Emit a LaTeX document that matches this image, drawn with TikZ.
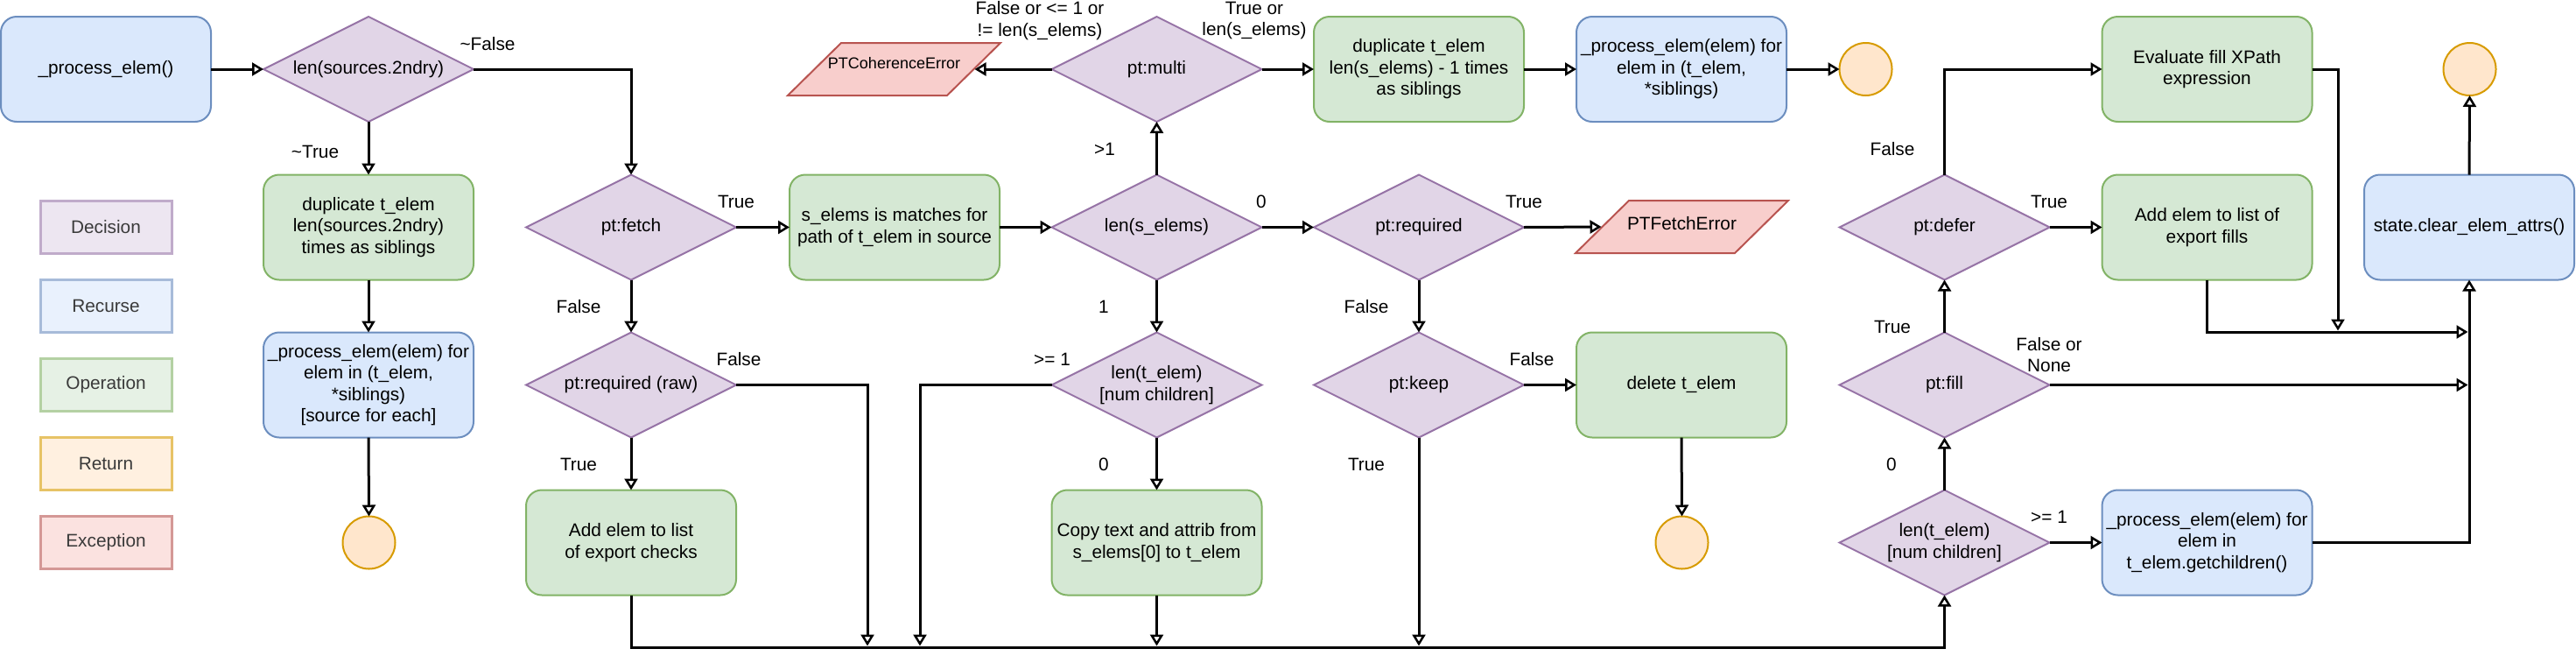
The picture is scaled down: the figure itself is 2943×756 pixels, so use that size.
\documentclass[tikz,border=0pt]{standalone}
\usepackage{fontspec}
\setmainfont{Liberation Sans}
\usetikzlibrary{shapes.geometric, arrows.meta}
\definecolor{decF}{HTML}{E1D5E7}\definecolor{decS}{HTML}{9673A6}
\definecolor{recF}{HTML}{DAE8FC}\definecolor{recS}{HTML}{6C8EBF}
\definecolor{opF}{HTML}{D5E8D4}\definecolor{opS}{HTML}{82B366}
\definecolor{retF}{HTML}{FFE6CC}\definecolor{retS}{HTML}{D79B00}
\definecolor{excF}{HTML}{F8CECC}\definecolor{excS}{HTML}{B85450}
\definecolor{lgDecF}{HTML}{EDE6F1}\definecolor{lgDecS}{HTML}{C0ABCA}
\definecolor{lgRecF}{HTML}{E9F1FD}\definecolor{lgRecS}{HTML}{A7BBD9}
\definecolor{lgOpF}{HTML}{E6F1E5}\definecolor{lgOpS}{HTML}{B4D1A3}
\definecolor{lgRetF}{HTML}{FFF0E0}\definecolor{lgRetS}{HTML}{E7C366}
\definecolor{lgExcF}{HTML}{FBE2E0}\definecolor{lgExcS}{HTML}{D49896}
\definecolor{legT}{HTML}{3A3A3A}
\newcommand{\mainsz}{\fontsize{20.8pt}{24.5pt}\selectfont}
\newcommand{\smallsz}{\fontsize{18pt}{21pt}\selectfont}
\tikzset{
  base/.style={font=\mainsz, align=center, line width=2pt, inner sep=0pt, outer sep=0pt},
  opbox/.style={base, rectangle, rounded corners=18pt, minimum width=240pt, minimum height=120pt, draw=opS, fill=opF},
  recbox/.style={opbox, draw=recS, fill=recF},
  decbox/.style={base, diamond, aspect=2, minimum width=240pt, minimum height=120pt, draw=decS, fill=decF},
  retbox/.style={base, circle, minimum size=60pt, draw=retS, fill=retF},
  excholder/.style={base, rectangle, minimum width=243pt, minimum height=60pt},
  excdraw/.style={line width=2pt, draw=excS, fill=excF, line join=miter},
  legbox/.style={rectangle, minimum width=150pt, minimum height=60pt, line width=3pt, font=\mainsz, text=legT},
  lbl/.style={font=\mainsz, align=center, inner sep=0pt},
  wire/.style={line width=3pt},
  conn/.style={wire, -{Triangle[open, length=13pt, width=15pt, line width=2.5pt]}},
}
\begin{document}
\begin{tikzpicture}[x=1pt, y=-1pt]
\useasboundingbox (0,0) rectangle (2943,756);
% legend
\node[legbox, draw=lgDecS, fill=lgDecF] (lgdec) at (121,259.5) {Decision};
\node[legbox, draw=lgRecS, fill=lgRecF] (lgrec) at (121,349.5) {Recurse};
\node[legbox, draw=lgOpS, fill=lgOpF] (lgop) at (121,439.5) {Operation};
\node[legbox, draw=lgRetS, fill=lgRetF] (lgret) at (121,529.5) {Return};
\node[legbox, draw=lgExcS, fill=lgExcF] (lgexc) at (121,619.5) {Exception};
% column 1-2
\node[recbox] (start) at (121,79) {\_process\_elem()};
\node[decbox] (d1) at (421,79) {len(sources.2ndry)};
\node[opbox] (dup1) at (421,259.5) {duplicate t\_elem\\len(sources.2ndry)\\times as siblings};
\node[recbox] (rec1) at (421,439.5) {\_process\_elem(elem) for\\elem in (t\_elem,\\*siblings)\\{[source for each]}};
\node[retbox] (ret1) at (421.5,619.5) {};
% column 3
\node[decbox] (fetch) at (721,259.5) {pt:fetch};
\node[decbox] (reqraw) at (721,439.5) {pt:required (raw)};
\node[opbox] (chk) at (721,619.5) {Add elem to list\\of export checks};
% column 4
\node[excholder] (coh) at (1021.5,79) {};
\draw[excdraw] ([shift={(-121.5,30)}]coh.center) -- ([shift={(-60.5,-30)}]coh.center) -- ([shift={(121.5,-30)}]coh.center) -- ([shift={(60.5,30)}]coh.center) -- cycle;
\coordinate (cohR) at ([shift={(92,0)}]coh.center);
\node[lbl, font=\smallsz] (cohtxt) at (1021.5,72) {PTCoherenceError};
\node[opbox] (sel) at (1022,259.5) {s\_elems is matches for\\path of t\_elem in source};
% column 5
\node[decbox] (multi) at (1321.5,79) {pt:multi};
\node[decbox] (lse) at (1321.5,259.5) {len(s\_elems)};
\node[decbox] (lte1) at (1321.5,439.5) {len(t\_elem)\\{[num children]}};
\node[opbox] (copy) at (1321.5,619.5) {Copy text and attrib from\\s\_elems[0] to t\_elem};
% column 6
\node[opbox] (dup2) at (1621,79) {duplicate t\_elem\\len(s\_elems) - 1 times\\as siblings};
\node[decbox] (req) at (1621,259.5) {pt:required};
\node[decbox] (keep) at (1621,439.5) {pt:keep};
% column 7
\node[recbox] (rec2) at (1921,79) {\_process\_elem(elem) for\\elem in (t\_elem,\\*siblings)};
\node[excholder] (ferr) at (1921.5,259) {};
\draw[excdraw] ([shift={(-121.5,30)}]ferr.center) -- ([shift={(-60.5,-30)}]ferr.center) -- ([shift={(121.5,-30)}]ferr.center) -- ([shift={(60.5,30)}]ferr.center) -- cycle;
\coordinate (ferrL) at ([shift={(-92,0)}]ferr.center);
\node[lbl] (ferrtxt) at (1921.5,255) {PTFetchError};
\node[opbox] (del) at (1921,439.5) {delete t\_elem};
\node[retbox] (ret3) at (1921.5,619.5) {};
\node[retbox] (ret2) at (2131.5,79) {};
% column 8
\node[decbox] (defer) at (2221.5,259.5) {pt:defer};
\node[decbox] (fill) at (2221.5,439.5) {pt:fill};
\node[decbox] (lt2) at (2221.5,619.5) {len(t\_elem)\\{[num children]}};
% column 9
\node[opbox] (eval) at (2521.5,79) {Evaluate fill XPath\\expression};
\node[opbox] (fills) at (2521.5,259.5) {Add elem to list of\\export fills};
\node[recbox] (rec3) at (2521.5,619.5) {\_process\_elem(elem) for\\elem in\\t\_elem.getchildren()};
% column 10
\node[recbox] (clear) at (2821,259.5) {state.clear\_elem\_attrs()};
\node[retbox] (ret4) at (2821.5,79) {};
% junction coordinates
\coordinate (busL) at (721,739);
\coordinate (busR) at (2221.5,739);
\coordinate (j1) at (991,737.5);
\coordinate (j2) at (1051,737.5);
\coordinate (j3) at (1321.5,737.5);
\coordinate (j4) at (1621,737.5);
\coordinate (jfill) at (2819.5,439.5);
\coordinate (jfills) at (2819.5,379);
\coordinate (jeval) at (2671,377.5);
\coordinate (evc) at (2671,79);
% connectors
\draw[conn] (start.east) -- (d1.west);
\draw[conn] (d1.east) -| (fetch.north);
\draw[conn] (d1.south) -- (dup1.north);
\draw[conn] (dup1.south) -- (rec1.north);
\draw[conn] (rec1.south) -- (ret1.north);
\draw[conn] (fetch.east) -- (sel.west);
\draw[conn] (fetch.south) -- (reqraw.north);
\draw[conn] (reqraw.south) -- (chk.north);
\draw[conn] (reqraw.east) -| (j1);
\draw[conn] (sel.east) -- (lse.west);
\draw[conn] (lse.north) -- (multi.south);
\draw[conn] (multi.west) -- (cohR);
\draw[conn] (multi.east) -- (dup2.west);
\draw[conn] (dup2.east) -- (rec2.west);
\draw[conn] (rec2.east) -- (ret2.west);
\draw[conn] (lse.south) -- (lte1.north);
\draw[conn] (lse.east) -- (req.west);
\draw[conn] (lte1.west) -| (j2);
\draw[conn] (lte1.south) -- (copy.north);
\draw[conn] (copy.south) -- (j3);
\draw[conn] (req.east) -- (ferrL);
\draw[conn] (req.south) -- (keep.north);
\draw[conn] (keep.east) -- (del.west);
\draw[conn] (del.south) -- (ret3.north);
\draw[conn] (keep.south) -- (j4);
\draw[conn] (chk.south) -- (busL) -- (busR) -- (lt2.south);
\draw[conn] (lt2.north) -- (fill.south);
\draw[conn] (lt2.east) -- (rec3.west);
\draw[conn] (rec3.east) -| (clear.south);
\draw[conn] (fill.north) -- (defer.south);
\draw[conn] (fill.east) -- (jfill);
\draw[conn] (defer.east) -- (fills.west);
\draw[conn] (defer.north) |- (eval.west);
\draw[conn] (eval.east) -- (evc) -- (jeval);
\draw[conn] (fills.south) |- (jfills);
\draw[conn] (clear.north) -- (ret4.south);
% labels
\node[lbl] (l1) at (557,50) {\textasciitilde False};
\node[lbl] (l2) at (360,173) {\textasciitilde True};
\node[lbl] (l3) at (841,230) {True};
\node[lbl] (l4) at (661,350) {False};
\node[lbl] (l5) at (661,530) {True};
\node[lbl] (l6) at (844,410) {False};
\node[lbl] (l7) at (1188,23.5) {False or <= 1 or\\!= len(s\_elems)};
\node[lbl] (l8) at (1433,23.5) {True or\\len(s\_elems)};
\node[lbl] (l9) at (1262,170) {>1};
\node[lbl] (l10) at (1441,230) {0};
\node[lbl] (l11) at (1261,350) {1};
\node[lbl] (l12) at (1202,410) {>= 1};
\node[lbl] (l13) at (1261,530) {0};
\node[lbl] (l14) at (1741,230) {True};
\node[lbl] (l15) at (1561,350) {False};
\node[lbl] (l16) at (1750,410) {False};
\node[lbl] (l17) at (1561,530) {True};
\node[lbl] (l18) at (2162,170) {False};
\node[lbl] (l19) at (2162,373) {True};
\node[lbl] (l20) at (2341,230) {True};
\node[lbl] (l21) at (2341,405) {False or\\None};
\node[lbl] (l22) at (2161,530) {0};
\node[lbl] (l23) at (2341,590) {>= 1};
\end{tikzpicture}
\end{document}
